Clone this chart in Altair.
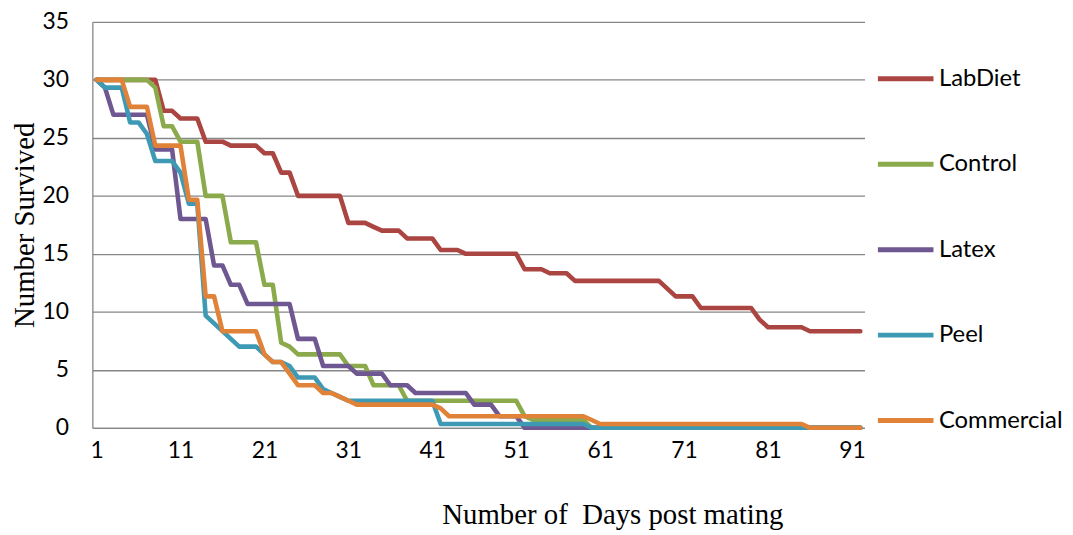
import altair as alt
import pandas as pd

days = list(range(1, 93))
series_names = ["LabDiet", "Control", "Latex", "Peel", "Commercial"]
series_colors = ["#AB4542", "#8BAA4B", "#6F5791", "#3E9AB4", "#E08238"]
x_ticks = [1, 11, 21, 31, 41, 51, 61, 71, 81, 91]
y_ticks = [0, 5, 10, 15, 20, 25, 30, 35]

labdiet = [30, 30, 30, 30, 30, 30, 30, 30, 27.33, 27.33,
           26.67, 26.67, 26.67, 24.67, 24.67, 24.67, 24.33, 24.33, 24.33, 24.33,
           23.67, 23.67, 22, 22, 20, 20, 20, 20, 20, 20,
           17.67, 17.67, 17.67, 17.33, 17, 17, 17, 16.33, 16.33, 16.33,
           16.33, 15.33, 15.33, 15.33, 15, 15, 15, 15, 15, 15,
           15, 13.67, 13.67, 13.67, 13.33, 13.33, 13.33, 12.67, 12.67, 12.67,
           12.67, 12.67, 12.67, 12.67, 12.67, 12.67, 12.67, 12.67, 12, 11.33,
           11.33, 11.33, 10.33, 10.33, 10.33, 10.33, 10.33, 10.33, 10.33, 9.33,
           8.67, 8.67, 8.67, 8.67, 8.67, 8.33, 8.33, 8.33, 8.33, 8.33,
           8.33, 8.33]

control = [30, 30, 30, 30, 30, 30, 30, 29.33, 26, 26,
           24.67, 24.67, 24.67, 20, 20, 20, 16, 16, 16, 16,
           12.33, 12.33, 7.33, 7, 6.33, 6.33, 6.33, 6.33, 6.33, 6.33,
           5.33, 5.33, 5.33, 3.67, 3.67, 3.67, 3.67, 2.33, 2.33, 2.33,
           2.33, 2.33, 2.33, 2.33, 2.33, 2.33, 2.33, 2.33, 2.33, 2.33,
           2.33, 1, 0.67, 0.67, 0.67, 0.67, 0.67, 0.67, 0.67, 0,
           0, 0, 0, 0, 0, 0, 0, 0, 0, 0,
           0, 0, 0, 0, 0, 0, 0, 0, 0, 0,
           0, 0, 0, 0, 0, 0, 0, 0, 0, 0,
           0, 0]

latex = [30, 29.33, 27, 27, 27, 27, 27, 24, 24, 24,
         18, 18, 18, 18, 14, 14, 12.33, 12.33, 10.67, 10.67,
         10.67, 10.67, 10.67, 10.67, 7.67, 7.67, 7.67, 5.33, 5.33, 5.33,
         5.33, 4.67, 4.67, 4.67, 4.67, 3.67, 3.67, 3.67, 3, 3,
         3, 3, 3, 3, 3, 2, 2, 2, 1, 1,
         1, 0, 0, 0, 0, 0, 0, 0, 0, 0,
         0, 0, 0, 0, 0, 0, 0, 0, 0, 0,
         0, 0, 0, 0, 0, 0, 0, 0, 0, 0,
         0, 0, 0, 0, 0, 0, 0, 0, 0, 0,
         0, 0]

peel = [30, 29.33, 29.33, 29.33, 26.33, 26.33, 25.33, 23, 23, 23,
        22, 19.33, 19.33, 9.67, 9, 8.33, 7.67, 7, 7, 7,
        6.33, 5.67, 5.67, 5.33, 4.33, 4.33, 4.33, 3.33, 3, 2.67,
        2.33, 2.33, 2.33, 2.33, 2.33, 2.33, 2.33, 2.33, 2.33, 2.33,
        2.33, 0.33, 0.33, 0.33, 0.33, 0.33, 0.33, 0.33, 0.33, 0.33,
        0.33, 0.33, 0.33, 0.33, 0.33, 0.33, 0.33, 0.33, 0.33, 0,
        0, 0, 0, 0, 0, 0, 0, 0, 0, 0,
        0, 0, 0, 0, 0, 0, 0, 0, 0, 0,
        0, 0, 0, 0, 0, 0, 0, 0, 0, 0,
        0, 0]

commercial = [30, 30, 30, 30, 27.67, 27.67, 27.67, 24.33, 24.33, 24.33,
              24.33, 19.67, 19.67, 11.33, 11.33, 8.33, 8.33, 8.33, 8.33, 8.33,
              6.33, 5.67, 5.67, 4.67, 3.67, 3.67, 3.67, 3, 3, 2.67,
              2.33, 2, 2, 2, 2, 2, 2, 2, 2, 2,
              2, 1.67, 1, 1, 1, 1, 1, 1, 1, 1,
              1, 1, 1, 1, 1, 1, 1, 1, 1, 0.67,
              0.33, 0.33, 0.33, 0.33, 0.33, 0.33, 0.33, 0.33, 0.33, 0.33,
              0.33, 0.33, 0.33, 0.33, 0.33, 0.33, 0.33, 0.33, 0.33, 0.33,
              0.33, 0.33, 0.33, 0.33, 0.33, 0, 0, 0, 0, 0,
              0, 0]

rows = []
for name, vals in zip(series_names, [labdiet, control, latex, peel, commercial]):
    for d, v in zip(days, vals):
        rows.append({"day": d, "survived": v, "diet": name})
df = pd.DataFrame(rows)

GRID = "#868686"

chart = alt.Chart(df).mark_line(
    strokeWidth=4.6, strokeCap="round", strokeJoin="round"
).encode(
    x=alt.X(
        "day:Q",
        scale=alt.Scale(domain=[0.5, 92.5], nice=False, zero=False),
        axis=alt.Axis(
            values=x_ticks, grid=False, ticks=False, tickSize=0,
            labelPadding=12, labelFont="Lato", labelFontSize=23,
            labelColor="black", labelFlush=False,
            domainColor=GRID, domainWidth=1.3,
            title="Number of\u00a0 Days post mating",
            titleFont="Liberation Serif", titleFontSize=29,
            titleFontWeight="normal", titleColor="black",
            titleX=524, titleY=96, titleBaseline="alphabetic",
            titleAlign="center",
        ),
    ),
    y=alt.Y(
        "survived:Q",
        scale=alt.Scale(domain=[0, 35], nice=False),
        axis=alt.Axis(
            values=y_ticks, grid=True, gridColor=GRID, gridWidth=1.3,
            ticks=False, tickSize=0, labelPadding=24,
            labelFont="Lato", labelFontSize=23, labelColor="black",
            labelFlush=False, domainColor=GRID, domainWidth=1.3,
            title="Number Survived",
            titleFont="Liberation Serif", titleFontSize=29,
            titleFontWeight="normal", titleColor="black",
            titleAngle=270, titleX=-59, titleY=204.5,
            titleBaseline="alphabetic", titleAlign="center",
        ),
    ),
    color=alt.Color(
        "diet:N",
        scale=alt.Scale(domain=series_names, range=series_colors),
        legend=alt.Legend(
            title=None, orient="none", legendX=789, legendY=26.8,
            direction="vertical", symbolType="stroke", symbolSize=3136,
            symbolStrokeWidth=5, labelFont="Lato", labelFontSize=24,
            labelColor="black", labelOffset=3, rowPadding=43.1, padding=0,
            labelLimit=200,
        ),
    ),
).properties(
    width=778,
    height=409,
    padding={"left": 85, "top": 12, "right": 202, "bottom": 103},
    autosize=alt.AutoSizeParams(type="none"),
).configure_view(stroke=None)

chart.save("out.html", embed_options={"renderer": "svg", "actions": False})
